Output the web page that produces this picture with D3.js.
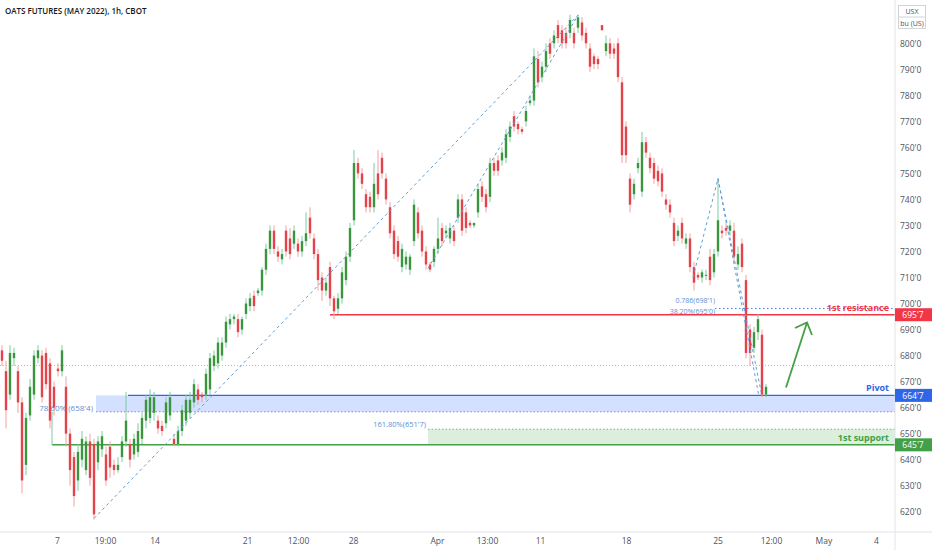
<!DOCTYPE html>
<html>
<head>
<meta charset="utf-8">
<script src="https://cdn.jsdelivr.net/npm/d3@7"></script>
<style>
  body { margin: 0; background: #ffffff; }
  svg { display: block; font-family: "Open Sans", "Liberation Sans", sans-serif; }
</style>
</head>
<body>
<div id="chart"></div>
<script>

var title = "OATS FUTURES (MAY 2022), 1h, CBOT";

// hourly candles (one entry per ~4px of chart)
var opens  = [682,674,665,679,674,662,638,657,665,679,680,681,677,668,675,674,668,650,641,632,640,636,647,646,639,644,642,645,638,636,641,647,646,642,643,648,655,656,658,655,653,654,657,648,646,651,655,658,662,667,665,665,667,676,677,680,685,692,694,694,690,696,699,703,704,705,713,721,728,720,717,728,725,723,723,720,724,733,725,719,710,705,714,702,698,702,709,718,732,754,750,742,741,737,750,756,748,737,728,724,714,715,713,724,735,728,720,715,716,721,729,727,725,728,733,740,735,731,730,735,745,742,741,754,755,755,756,764,772,769,767,770,777,778,794,787,791,800,800,807,805,804,804,804,806,808,804,798,795,794,807,797,800,798,800,785,768,748,742,752,743,762,756,754,751,750,740,738,731,726,731,723,725,714,711,710,711,718,712,720,728,729,728,728,715,723,709,690,683,689,688,665];
var highs  = [684,678,684,683,676,664,658,671,682,684,682,683,679,670,677,684,672,652,643,646,651,649,650,648,649,651,645,647,640,641,649,666,648,650,654,658,665,667,666,657,655,664,666,650,653,661,665,666,671,669,666,675,681,682,687,687,695,696,696,696,695,702,704,705,706,714,723,730,730,722,721,730,729,730,725,726,735,737,727,721,712,710,716,703,704,714,720,731,759,756,752,744,743,754,759,758,750,739,730,726,723,720,719,740,737,730,722,716,722,733,731,730,731,730,742,742,737,732,731,746,747,744,756,756,757,760,767,770,774,770,768,776,780,798,797,793,800,802,805,809,807,806,811,806,811,810,806,800,796,795,807,803,802,800,802,787,770,750,748,756,766,764,758,756,753,752,742,740,733,730,733,727,727,716,712,713,713,721,721,748,730,731,732,731,722,725,711,692,691,696,690,669];
var lows   = [676,652,663,676,658,627,634,655,663,677,662,667,652,657,672,672,645,630,622,628,637,634,630,617,636,641,630,633,634,635,639,645,637,640,641,646,652,654,655,650,649,652,655,645,645,649,653,656,660,661,662,663,665,674,675,678,683,690,692,687,688,694,697,697,703,703,711,719,719,716,715,718,717,721,718,718,722,725,717,705,701,703,699,694,696,700,707,716,730,748,744,735,735,735,740,748,738,725,717,716,712,713,711,722,725,718,713,712,714,719,722,725,723,722,731,726,727,729,729,733,739,735,739,749,749,753,754,762,766,765,765,768,776,776,783,785,789,794,798,800,798,798,802,798,804,801,798,789,790,790,805,795,794,794,785,754,754,735,740,750,741,756,750,746,745,741,736,733,722,724,723,721,712,705,709,708,709,707,710,718,725,726,726,716,713,712,679,676,681,686,664,664];
var closes = [678,659,681,681,662,632,656,668,680,682,664,669,655,660,674,682,650,636,626,643,648,647,633,619,647,649,632,637,636,638,647,655,640,648,651,656,663,664,664,652,651,662,664,646,651,659,663,663,669,663,664,673,679,680,685,685,693,694,695,689,694,700,702,699,705,713,721,728,721,718,719,720,719,728,720,724,727,727,719,709,705,708,702,697,702,712,718,729,754,750,746,737,737,746,742,750,740,727,719,718,721,718,718,738,727,720,715,713,721,725,724,728,729,724,740,728,729,730,731,744,741,737,754,751,751,758,765,768,768,767,766,774,778,795,785,791,797,796,803,802,800,800,809,800,810,803,800,791,792,792,805,800,796,796,787,757,757,738,746,754,762,758,752,748,747,743,738,735,724,728,725,725,714,708,710,712,711,709,719,732,727,728,730,718,719,714,681,681,689,694,665,668];

// price axis and time axis
var priceTicks = d3.range(620, 801, 10);
var timeTickBars = [13.75, 25.75, 38.15, 61.25, 74, 87.75, 108.75, 121.25, 134.5, 156, 178.9, 192.25, 205.35, 218.5];
var timeTickLabels = ["7", "19:00", "14", "21", "12:00", "28", "Apr", "13:00", "11", "18", "25", "12:00", "May", "4"];

// horizontal levels
var levelPrices = [695.7, 664.7, 645.7];
var levelTags = ["695'7", "664'7", "645'7"];
var levelNames = ["1st resistance", "Pivot", "1st support"];
var levelFromBar = [82, 31.5, 12.5];
var levelColors = ["#f23645", "#2f66e8", "#43a047"];

// shaded zones [top, bottom, from bar]
var pivotZone = [664.7, 658.4, 23.5];
var supportZone = [651.7, 645.7, 106.5];
var prevClose = 676.2;

// drawings (bar, price)
var fibSwing1 = [[23, 617.4], [144, 810.8], [106.5, 713.5]];
var fibSwing2 = [[172.75, 710], [179, 748], [190, 664.4]];
var fibSwing2b = [[179, 748], [189.2, 664.6]];
var fib786 = [178.25, 698.1];
var arrowPts = [[196, 667.7], [201.25, 692.7]];
var arrowHead = [[198.25, 690.6], [201.25, 692.7], [202.5, 687.9]];

var W = 932, H = 550, plotR = 895, plotB = 532;

var svg = d3.select("#chart")
  .append("svg")
  .attr("width", W)
  .attr("height", H);

var x = d3.scaleLinear().domain([-0.5, 223.25]).range([0, plotR]);
var y = d3.scaleLinear().domain([620, 800]).range([511.7, 43.3]);

svg.append("rect")
  .attr("width", W).attr("height", H)
  .attr("fill", "#ffffff");

// zones
svg.append("rect")
  .attr("x", x(pivotZone[2]))
  .attr("y", y(pivotZone[0]))
  .attr("width", plotR - x(pivotZone[2]))
  .attr("height", y(pivotZone[1]) - y(pivotZone[0]))
  .attr("fill", "rgba(41,98,255,0.2)");

svg.append("line")
  .attr("x1", x(pivotZone[2])).attr("x2", plotR)
  .attr("y1", y(pivotZone[1])).attr("y2", y(pivotZone[1]))
  .attr("stroke", "#7f8fb0")
  .attr("stroke-dasharray", "1.5,2");

svg.append("rect")
  .attr("x", x(supportZone[2]))
  .attr("y", y(supportZone[0]))
  .attr("width", plotR - x(supportZone[2]))
  .attr("height", y(supportZone[1]) - y(supportZone[0]))
  .attr("fill", "rgba(76,175,80,0.2)");

svg.append("line")
  .attr("x1", x(supportZone[2])).attr("x2", plotR)
  .attr("y1", y(supportZone[0])).attr("y2", y(supportZone[0]))
  .attr("stroke", "#86a98a")
  .attr("stroke-dasharray", "1.5,2");

// previous close
svg.append("line")
  .attr("x1", 0).attr("x2", plotR)
  .attr("y1", y(prevClose)).attr("y2", y(prevClose))
  .attr("stroke", "#f2a5a5")
  .attr("stroke-dasharray", "1,2");

// fib 0.786 dotted
svg.append("line")
  .attr("x1", x(fib786[0])).attr("x2", plotR)
  .attr("y1", y(fib786[1])).attr("y2", y(fib786[1]))
  .attr("stroke", "#3f7fe0")
  .attr("stroke-dasharray", "1.5,2.5");

// fib texts
svg.append("text")
  .attr("x", x(pivotZone[2]) - 3)
  .attr("y", y(pivotZone[1]) - 1)
  .attr("text-anchor", "end")
  .attr("font-size", 8)
  .attr("fill", "#5b8fd6")
  .text("78.60% (658'4)");

svg.append("text")
  .attr("x", x(supportZone[2]) - 2)
  .attr("y", y(supportZone[0]) - 2)
  .attr("text-anchor", "end")
  .attr("font-size", 7.5)
  .attr("fill", "#5b8fd6")
  .text("161.80%(651'7)");

svg.append("text")
  .attr("x", x(fib786[0]))
  .attr("y", y(fib786[1]) - 5)
  .attr("text-anchor", "end")
  .attr("font-size", 7)
  .attr("fill", "#5b8fd6")
  .text("0.786(698'1)");

svg.append("text")
  .attr("x", x(fib786[0]))
  .attr("y", y(levelPrices[0]) - 1)
  .attr("text-anchor", "end")
  .attr("font-size", 7)
  .attr("fill", "#5b8fd6")
  .text("38.20%(695'0)");

// level lines
levelPrices.forEach(function(p, i) {
  svg.append("line")
    .attr("x1", x(levelFromBar[i])).attr("x2", plotR)
    .attr("y1", y(p)).attr("y2", y(p))
    .attr("stroke", levelColors[i])
    .attr("stroke-width", 1.4);
});

// left edge of the support box
svg.append("line")
  .attr("x1", x(levelFromBar[2])).attr("x2", x(levelFromBar[2]))
  .attr("y1", y(pivotZone[1])).attr("y2", y(levelPrices[2]))
  .attr("stroke", "#7fc8a0")
  .attr("stroke-width", 1);

// candles
var bars = d3.range(opens.length);
var candle = svg.append("g");

candle.selectAll("line")
  .data(bars)
  .enter().append("line")
  .attr("x1", function(i) { return x(i); })
  .attr("x2", function(i) { return x(i); })
  .attr("y1", function(i) { return y(highs[i]); })
  .attr("y2", function(i) { return y(lows[i]); })
  .attr("stroke", function(i) { return closes[i] >= opens[i] ? "#7ccba0" : "#f3a0a0"; })
  .attr("stroke-width", 1);

candle.selectAll("rect")
  .data(bars)
  .enter().append("rect")
  .attr("x", function(i) { return x(i) - 1.2; })
  .attr("y", function(i) { return y(Math.max(opens[i], closes[i])); })
  .attr("width", 2.4)
  .attr("height", function(i) { return Math.max(1, Math.abs(y(opens[i]) - y(closes[i]))); })
  .attr("fill", function(i) { return closes[i] >= opens[i] ? "#3b953f" : "#e5434b"; });

// fib swing dashed lines
var line = d3.line()
  .x(function(d) { return x(d[0]); })
  .y(function(d) { return y(d[1]); });

[fibSwing1, fibSwing2, fibSwing2b].forEach(function(pts) {
  svg.append("path")
    .attr("d", line(pts))
    .attr("fill", "none")
    .attr("stroke", "#5f9fd8")
    .attr("stroke-width", 1)
    .attr("stroke-dasharray", "3,3");
});

// level names
levelPrices.forEach(function(p, i) {
  svg.append("text")
    .attr("x", plotR - 6)
    .attr("y", y(p) - 4)
    .attr("text-anchor", "end")
    .attr("font-size", 9)
    .attr("font-weight", "bold")
    .attr("fill", levelColors[i])
    .text(levelNames[i]);
});

// green arrow
svg.append("path")
  .attr("d", line(arrowPts))
  .attr("fill", "none")
  .attr("stroke", "#43a047")
  .attr("stroke-width", 1.8);

svg.append("path")
  .attr("d", line(arrowHead))
  .attr("fill", "none")
  .attr("stroke", "#43a047")
  .attr("stroke-width", 1.8);

// axes frame
svg.append("line")
  .attr("x1", plotR).attr("x2", plotR)
  .attr("y1", 0).attr("y2", H)
  .attr("stroke", "#e0e3eb");

svg.append("line")
  .attr("x1", 0).attr("x2", W)
  .attr("y1", plotB).attr("y2", plotB)
  .attr("stroke", "#e0e3eb");

var yAxis = svg.append("g")
  .attr("transform", "translate(" + plotR + ",0)")
  .call(d3.axisRight(y)
    .tickValues(priceTicks)
    .tickSize(0)
    .tickPadding(5)
    .tickFormat(function(d) { return d + "'0"; }));
yAxis.select(".domain").remove();
yAxis.selectAll("text")
  .attr("font-size", 8.5)
  .attr("font-family", "'Open Sans', sans-serif")
  .attr("fill", "#50535e");

var xAxis = svg.append("g")
  .attr("transform", "translate(0," + plotB + ")")
  .call(d3.axisBottom(x)
    .tickValues(timeTickBars)
    .tickSize(0)
    .tickPadding(6)
    .tickFormat(function(d, i) { return timeTickLabels[i]; }));
xAxis.select(".domain").remove();
xAxis.selectAll("text")
  .attr("font-size", 8.5)
  .attr("font-family", "'Open Sans', sans-serif")
  .attr("fill", "#50535e");

// price tags on the axis
levelPrices.forEach(function(p, i) {
  svg.append("rect")
    .attr("x", plotR)
    .attr("y", y(p) - 6.5)
    .attr("width", W - plotR)
    .attr("height", 13)
    .attr("fill", levelColors[i]);
  svg.append("text")
    .attr("x", plotR + 18)
    .attr("y", y(p) + 3.2)
    .attr("text-anchor", "middle")
    .attr("font-size", 8.5)
    .attr("fill", "#ffffff")
    .text(levelTags[i]);
});

// unit box
svg.append("rect")
  .attr("x", 898.5).attr("y", 5.5)
  .attr("width", 27).attr("height", 23)
  .attr("fill", "#ffffff")
  .attr("stroke", "#d1d4dc");
svg.append("line")
  .attr("x1", 898.5).attr("x2", 925.5)
  .attr("y1", 17).attr("y2", 17)
  .attr("stroke", "#d1d4dc");
svg.append("text")
  .attr("x", 912).attr("y", 14)
  .attr("text-anchor", "middle")
  .attr("font-size", 7)
  .attr("fill", "#50535e")
  .text("USX");
svg.append("text")
  .attr("x", 912).attr("y", 25.5)
  .attr("text-anchor", "middle")
  .attr("font-size", 7)
  .attr("fill", "#50535e")
  .text("bu (US)");

// title
svg.append("text")
  .attr("x", 5)
  .attr("y", 14)
  .attr("font-size", 8)
  .attr("font-weight", 600)
  .attr("fill", "#131722")
  .text(title);

</script>
</body>
</html>
